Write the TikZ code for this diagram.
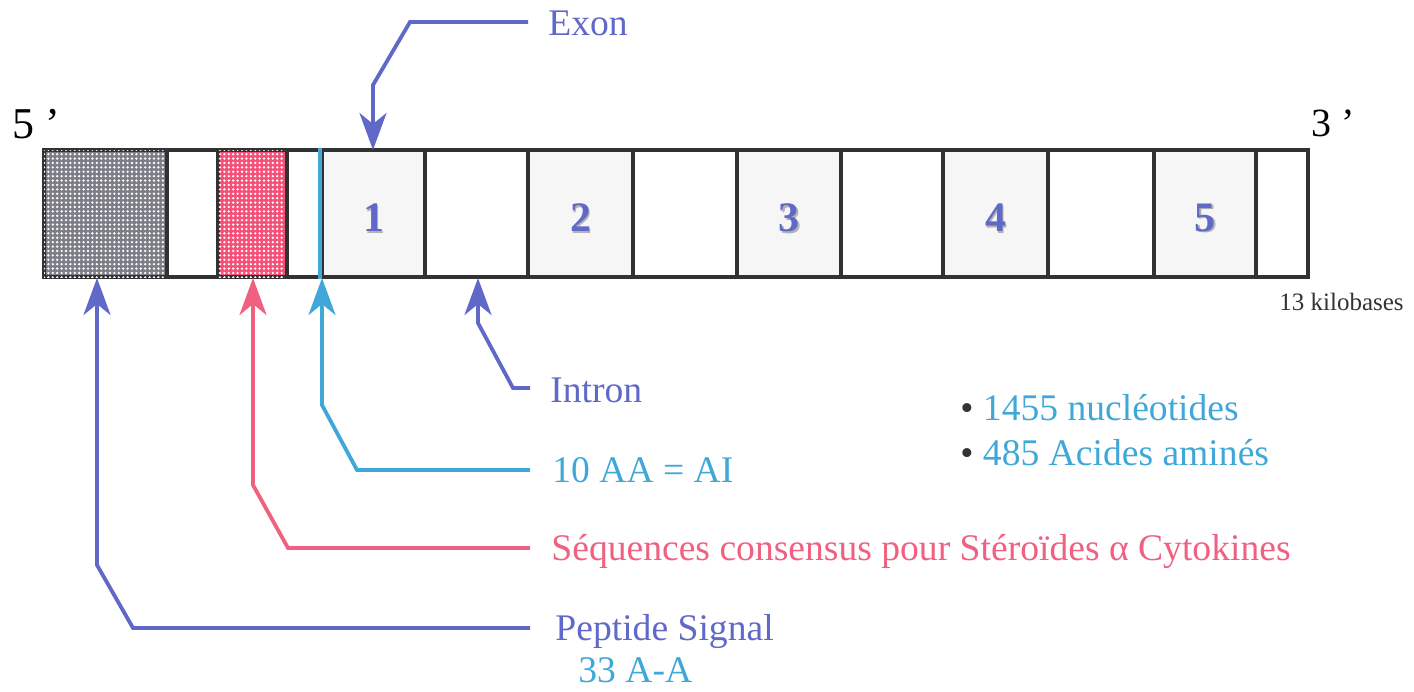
\documentclass[tikz,border=0pt]{standalone}
\usepackage{fontspec}
\setmainfont{Liberation Serif}
\usetikzlibrary{arrows.meta,patterns.meta}
\definecolor{cblue}{RGB}{96,104,200}
\definecolor{ccyan}{RGB}{64,168,216}
\definecolor{cpink}{RGB}{240,96,128}
\definecolor{cpinkfill}{RGB}{245,80,120}
\definecolor{cgrayfill}{RGB}{125,125,135}
\definecolor{cexon}{RGB}{246,246,246}
\definecolor{cborder}{RGB}{50,50,50}
\newcommand\genseg[4]{\node[#4, minimum width={(#3-#2)*0.5pt}] (#1) at ({(#2+#3)/2},213.5) {};}
\begin{document}
\begin{tikzpicture}[x=0.5pt,y=-0.5pt,
  seg/.style={draw=cborder, line width=1.9pt, inner sep=0pt, minimum height=63.5pt},
  exonbox/.style={seg, fill=cexon},
  intronbox/.style={seg, fill=white},
  dotted box/.style={seg, fill=#1, postaction={pattern={Dots[distance=2.2pt,radius=0.65pt]}, pattern color=white}},
  conn/.style={line width=1.9pt, -{Stealth[length=18.5pt,width=13.5pt,inset=5.5pt]}},
  lbl/.style={anchor=base west, inner sep=0pt, font=\fontsize{18.8}{22}\selectfont},
  num/.style={inner sep=0pt, font=\fontsize{21}{22}\selectfont\bfseries, text=cblue},
  numshadow/.style={num, text=gray!60},
]
\useasboundingbox (0,0) rectangle (1414,691);
% gene segments
\genseg{sig}{44}{167}{dotted box=cgrayfill}
\genseg{i0}{167}{218}{intronbox}
\genseg{consbox}{218}{287}{dotted box=cpinkfill}
\genseg{i1}{287}{322}{intronbox}
\genseg{e1}{322}{425}{exonbox}
\genseg{i2}{425}{528}{intronbox}
\genseg{e2}{528}{633}{exonbox}
\genseg{i3}{633}{737}{intronbox}
\genseg{e3}{737}{841}{exonbox}
\genseg{i4}{841}{943}{intronbox}
\genseg{e4}{943}{1048}{exonbox}
\genseg{i5}{1048}{1154}{intronbox}
\genseg{e5}{1154}{1256}{exonbox}
\genseg{i6}{1256}{1308}{intronbox}
% exon numbers
\foreach \e in {1,...,5}{
  \node[numshadow] at ([xshift=0.9pt,yshift=-2.9pt]e\e.center) {\e};
  \node[num] (n\e) at ([yshift=-2pt]e\e.center) {\e};
}
% cyan line in box
\draw[ccyan, line width=1.9pt] (e1.north west) -- (e1.south west);
% end labels
\node[anchor=base west, inner sep=0pt, font=\fontsize{22}{24}\selectfont] (five) at (12,138) {5 ’};
\node[anchor=base west, inner sep=0pt, font=\fontsize{20}{24}\selectfont] (three) at (1311,136) {3 ’};
\node[anchor=base west, inner sep=0pt, font=\fontsize{12.5}{14}\selectfont, text=black!80] (kb) at (1279,310) {13 kilobases};
% labels
\node[lbl, text=cblue] (exon) at (548,35) {Exon};
\node[lbl, text=cblue] (intron) at (550,402) {Intron};
\node[lbl, text=ccyan] (ai) at (552,482) {10 AA = AI};
\node[lbl, text=cpink] (cons) at (551,560) {Séquences consensus pour Stéroïdes α Cytokines};
\node[lbl, text=cblue] (pep) at (555,640) {Peptide Signal};
\node[lbl, text=ccyan] (aa33) at (578,682) {33 A-A};
\node[lbl] (nuc) at (960,420) {\textcolor{black!80}{•} \textcolor{ccyan}{1455 nucléotides}};
\node[lbl] (acid) at (960,465) {\textcolor{black!80}{•} \textcolor{ccyan}{485 Acides aminés}};
% connector end points
\coordinate (exonL) at (528,22);
\coordinate (tExon) at (373,150);
\coordinate (intronL) at (530,388);
\coordinate (tIntron) at (478,278);
\coordinate (aiL) at (530,470);
\coordinate (tAI) at (322,278);
\coordinate (consL) at (530,548);
\coordinate (tCons) at (253,278);
\coordinate (pepL) at (530,628);
\coordinate (tSig) at (97,278);
% connectors
\draw[conn, cblue] (exonL) -- (410,22) -- (373,85) -- (tExon);
\draw[conn, cblue] (intronL) -- (513,388) -- (478,323) -- (tIntron);
\draw[conn, ccyan] (aiL) -- (357,470) -- (322,405) -- (tAI);
\draw[conn, cpink] (consL) -- (288,548) -- (253,485) -- (tCons);
\draw[conn, cblue] (pepL) -- (133,628) -- (97,565) -- (tSig);
\end{tikzpicture}
\end{document}
